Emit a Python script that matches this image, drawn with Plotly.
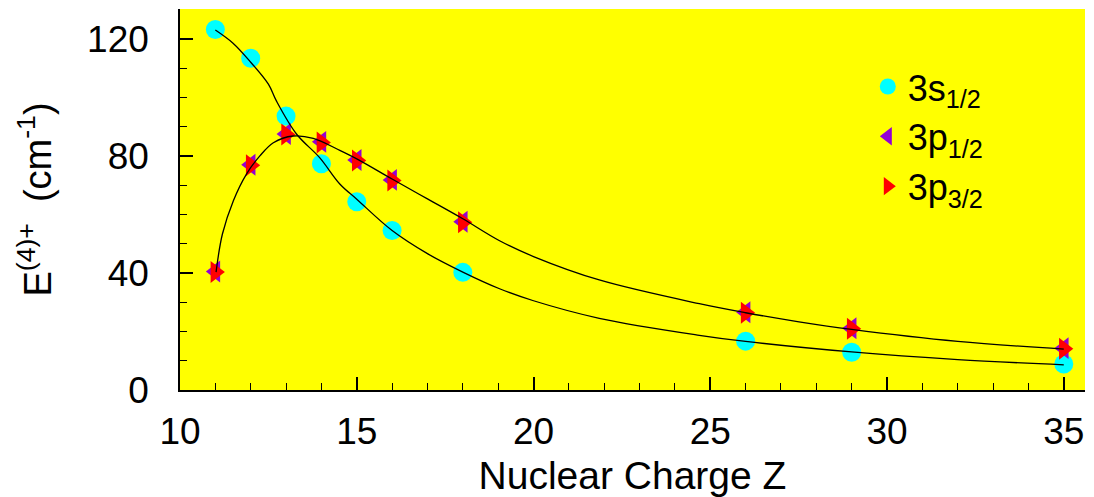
import plotly.graph_objects as go

# Data points
Z = [11, 12, 13, 14, 15, 16, 18, 26, 29, 35]
s12 = [123.2, 113.4, 93.6, 77.3, 64.3, 54.5, 40.2, 16.7, 12.9, 8.9]
p12 = [40.5, 77.0, 87.5, 84.8, 78.6, 71.8, 57.5, 26.6, 21.1, 14.3]
p32 = [40.3, 76.8, 87.3, 84.6, 78.4, 71.6, 57.3, 26.4, 20.9, 14.1]

# Fitted curves
curve_s_z = [11, 11.5, 12, 12.5, 12.73, 13.3, 13.95, 14.52, 15, 16, 17, 18, 19.04, 20,
             21.86, 24.69, 26, 29, 32, 35]
curve_s_y = [123.0, 118.5, 112.0, 104.5, 98.7, 87.4, 79.4, 70.4, 65.2, 54.5, 46.6, 40.3,
             34.6, 30.5, 24.5, 18.7, 16.6, 13.0, 10.4, 8.6]
curve_p_z = [11.02, 11.2, 11.51, 11.88, 12.26, 12.64, 13.2, 13.77, 14.52, 15, 16, 17, 18,
             19.04, 20, 21.86, 24.69, 26, 27.51, 29, 32, 35]
curve_p_y = [40.3, 53.3, 64.7, 73.8, 80.0, 84.5, 86.8, 86.0, 81.9, 79.0, 72.1, 65.3, 58.5,
             51.0, 45.6, 37.6, 29.5, 26.4, 23.3, 20.7, 16.6, 14.0]

FONT = "Liberation Sans, Arial, sans-serif"

fig = go.Figure()
fig.add_trace(go.Scatter(x=Z, y=s12, mode="markers", name="3s<sub>1/2</sub>",
                         marker=dict(symbol="circle", size=19, color="#00FFFF")))
fig.add_trace(go.Scatter(x=Z, y=p12, mode="markers", name="3p<sub>1/2</sub>",
                         marker=dict(symbol="triangle-left", size=19, color="#9400D3")))
fig.add_trace(go.Scatter(x=Z, y=p32, mode="markers", name="3p<sub>3/2</sub>",
                         marker=dict(symbol="triangle-right", size=19, color="#FF0000")))
fig.add_trace(go.Scatter(x=curve_s_z, y=curve_s_y, mode="lines", showlegend=False,
                         line=dict(color="black", width=1.3, shape="spline", smoothing=1)))
fig.add_trace(go.Scatter(x=curve_p_z, y=curve_p_y, mode="lines", showlegend=False,
                         line=dict(color="black", width=1.3, shape="spline", smoothing=1)))

fig.update_layout(
    width=1086, height=489,
    margin=dict(l=172, r=9, t=1, b=107),
    paper_bgcolor="white",
    plot_bgcolor="#FFFF00",
    font=dict(family=FONT, size=37, color="black"),
    legend=dict(x=0.76, y=0.875, xanchor="left", yanchor="top",
                bgcolor="rgba(0,0,0,0)", font=dict(size=36), tracegroupgap=0),
    xaxis=dict(range=[10, 35.6], dtick=5, tick0=10, showgrid=False, zeroline=False,
               showline=True, linecolor="black", linewidth=1.5,
               ticks="inside", ticklen=13, tickwidth=1.5, tickcolor="black",
               minor=dict(dtick=1, ticks="inside", ticklen=7, tickcolor="black", tickwidth=1),
               ticklabelstandoff=8,
               title=dict(text="Nuclear Charge Z", font=dict(size=39), standoff=15),
               tickfont=dict(size=37)),
    yaxis=dict(range=[0, 130.2], dtick=40, tick0=0, showgrid=False, zeroline=False,
               showline=True, linecolor="black", linewidth=1.5,
               ticks="inside", ticklen=13, tickwidth=1.5, tickcolor="black",
               minor=dict(dtick=10, ticks="inside", ticklen=7, tickcolor="black", tickwidth=1),
               ticklabelstandoff=22,
               title=dict(text="E<sup>(4)+</sup>  (cm<sup>-1</sup>)", font=dict(size=38), standoff=24),
               tickfont=dict(size=37)),
)

fig.write_html("out.html")
